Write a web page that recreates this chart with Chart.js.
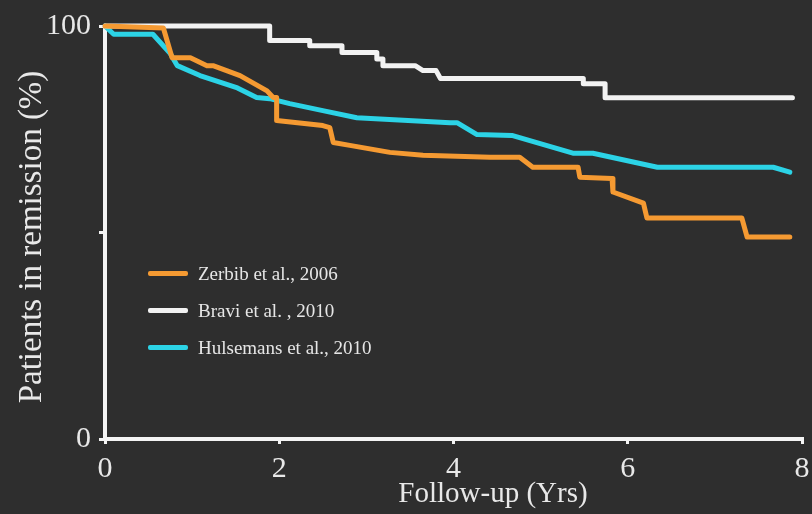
<!DOCTYPE html>
<html>
<head>
<meta charset="utf-8">
<script src="https://cdn.jsdelivr.net/npm/chart.js@4.4.1/dist/chart.umd.min.js"></script>
<style>
  html, body { margin: 0; padding: 0; background: #2e2e2e; }
  #wrap { position: relative; width: 812px; height: 514px; }
  canvas { display: block; }
  #legend {
    position: absolute; left: 148px; top: 255px;
    font-family: "Liberation Serif", "DejaVu Serif", serif;
    font-size: 19px; color: #e6e6e6;
  }
  #legend .row { display: flex; align-items: center; height: 37px; }
  #legend .swatch { width: 40px; height: 5px; border-radius: 2px; margin-right: 10px; }
</style>
</head>
<body>
<div id="wrap">
  <canvas id="c" width="812" height="514"></canvas>
  <div id="legend"></div>
</div>
<script>
// Kaplan-Meier style remission curves (follow-up in years, % in remission)
const seriesNames = ["Zerbib et al., 2006", "Bravi et al. , 2010", "Hulsemans et al., 2010"];
const seriesColors = ["#f59a32", "#f2f2f2", "#2cd3e6"];

const zerbibYears = [0, 0.67, 0.77, 0.98, 1.17, 1.24, 1.55, 1.86, 1.93, 1.97, 1.97, 2.5, 2.58, 2.62, 2.81, 3.27, 3.65, 4.42, 4.76, 4.91, 5.43, 5.45, 5.82, 5.83, 6.18, 6.22, 7.31, 7.37, 7.86];
const zerbibPct   = [100, 99.5, 92.3, 92.3, 90.4, 90.4, 88, 84.3, 82.7, 82.7, 77.1, 75.9, 75.4, 71.8, 71.1, 69.4, 68.7, 68.2, 68.2, 65.8, 65.8, 63.4, 63.1, 59.8, 57.1, 53.5, 53.5, 48.9, 48.9];

const braviYears = [0, 1.89, 1.89, 2.35, 2.35, 2.72, 2.72, 3.12, 3.12, 3.19, 3.19, 3.56, 3.65, 3.8, 3.85, 5.49, 5.49, 5.74, 5.74, 7.89];
const braviPct   = [100, 100, 96.5, 96.5, 95.2, 95.2, 93.6, 93.6, 92, 92, 90.4, 90.4, 89.2, 89.2, 87.3, 87.3, 86, 86, 82.6, 82.6];

const hulsemansYears = [0, 0.1, 0.55, 0.75, 0.83, 1.09, 1.52, 1.74, 1.89, 2.12, 2.5, 2.89, 3.96, 4.04, 4.27, 4.67, 5.37, 5.6, 6.34, 7.67, 7.86];
const hulsemansPct   = [100, 98, 98, 93.3, 90.4, 88, 85, 82.7, 82.4, 81.2, 79.5, 77.8, 76.6, 76.6, 73.7, 73.5, 69.2, 69.2, 65.8, 65.8, 64.6];

const xTicks = [0, 2, 4, 6, 8];
const yTicks = [0, 50, 100];
const yTickLabels = ["0", "", "100"];

const toPoints = (xs, ys) => xs.map((x, i) => ({ x: x, y: ys[i] }));
const seriesData = [
  toPoints(zerbibYears, zerbibPct),
  toPoints(braviYears, braviPct),
  toPoints(hulsemansYears, hulsemansPct)
];

const serif = '"Liberation Serif", "DejaVu Serif", serif';
const textColor = '#e8e8e8';

// axis titles drawn at fixed spots around the plot
const axisTitles = {
  id: 'axisTitles',
  afterDraw(chart) {
    const ctx = chart.ctx;
    ctx.save();
    ctx.fillStyle = textColor;
    ctx.textAlign = 'center';
    ctx.textBaseline = 'middle';
    ctx.font = '33px ' + serif;
    ctx.translate(32, 237);
    ctx.rotate(-Math.PI / 2);
    ctx.fillText('Patients in remission (%)', 0, 0);
    ctx.restore();
    ctx.save();
    ctx.fillStyle = textColor;
    ctx.textAlign = 'center';
    ctx.textBaseline = 'middle';
    ctx.font = '29px ' + serif;
    ctx.fillText('Follow-up (Yrs)', 493, 494);
    ctx.restore();
  }
};

const bg = {
  id: 'bg',
  beforeDraw(chart) {
    const ctx = chart.ctx;
    ctx.save();
    ctx.fillStyle = '#2e2e2e';
    ctx.fillRect(0, 0, chart.width, chart.height);
    ctx.restore();
  }
};

new Chart(document.getElementById('c'), {
  type: 'line',
  data: {
    datasets: seriesData.map((pts, i) => ({
      label: seriesNames[i],
      data: pts,
      borderColor: seriesColors[i],
      borderWidth: 5,
      pointRadius: 0,
      tension: 0,
      fill: false,
      clip: false,
      borderJoinStyle: 'round',
      borderCapStyle: 'round'
    }))
  },
  options: {
    responsive: false,
    animation: false,
    layout: { padding: { top: 25, right: 10, bottom: 0, left: 0 } },
    plugins: { legend: { display: false }, tooltip: { enabled: false } },
    scales: {
      x: {
        type: 'linear',
        min: 0, max: 8,
        afterFit(scale) { scale.height = 75; scale.paddingRight = 0; },
        afterBuildTicks(scale) { scale.ticks = xTicks.map(v => ({ value: v })); },
        border: { color: '#f4f4f4', width: 4 },
        grid: { drawOnChartArea: false, drawTicks: true, tickLength: 5, color: '#f4f4f4', lineWidth: 3 },
        ticks: { color: textColor, font: { family: serif, size: 30 }, padding: 7, maxRotation: 0 }
      },
      y: {
        type: 'linear',
        min: 0, max: 100,
        afterFit(scale) { scale.width = 105; },
        afterBuildTicks(scale) { scale.ticks = yTicks.map(v => ({ value: v })); },
        border: { color: '#f4f4f4', width: 4 },
        grid: { drawOnChartArea: false, drawTicks: true, tickLength: 6, color: '#f4f4f4', lineWidth: 3 },
        ticks: {
          color: textColor, font: { family: serif, size: 30 }, padding: 8,
          callback: (v) => yTickLabels[yTicks.indexOf(v)]
        }
      }
    }
  },
  plugins: [bg, axisTitles]
});

// legend rows
const legend = document.getElementById('legend');
seriesNames.forEach((name, i) => {
  const row = document.createElement('div');
  row.className = 'row';
  const sw = document.createElement('div');
  sw.className = 'swatch';
  sw.style.background = seriesColors[i];
  const label = document.createElement('span');
  label.textContent = name;
  row.appendChild(sw);
  row.appendChild(label);
  legend.appendChild(row);
});
</script>
</body>
</html>
